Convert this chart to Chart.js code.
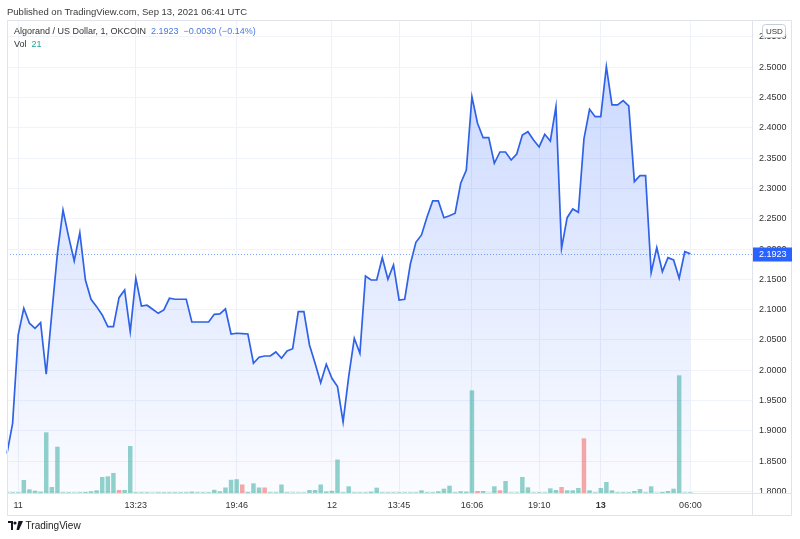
<!DOCTYPE html>
<html>
<head>
<meta charset="utf-8">
<script src="https://cdn.jsdelivr.net/npm/chart.js@4/dist/chart.umd.min.js"></script>
<style>
  body { margin: 0; background: #fff; font-family: "Liberation Sans", Arial, sans-serif; }
  #wrap { position: relative; width: 800px; height: 539px; }
  canvas { position: absolute; left: 0; top: 0; }
  .txt { position: absolute; font-size: 9px; color: #333; white-space: nowrap; }
</style>
</head>
<body>
<div id="wrap">
  <canvas id="chart" width="800" height="539"></canvas>
  <div class="txt" style="left:7px;top:6px;font-size:9.5px;color:#3a3a3a">Published on TradingView.com, Sep 13, 2021 06:41 UTC</div>
  <div class="txt" style="left:14px;top:26px">Algorand / US Dollar, 1, OKCOIN&nbsp; <span style="color:#4a78e0">2.1923&nbsp; −0.0030 (−0.14%)</span></div>
  <div class="txt" style="left:14px;top:39px">Vol&nbsp; <span style="color:#22a293">21</span></div>
  <div class="txt" style="left:8px;top:520px;font-size:10px;color:#222">
    <svg width="15" height="9" viewBox="0 0 15 9" style="vertical-align:-1px"><path d="M0 0h5v9H3V2H0z" fill="#131722"/><circle cx="7" cy="2" r="1.6" fill="#131722"/><path d="M10.5 0H15L11 9H8.5z" fill="#131722"/></svg>
    TradingView</div>
</div>
<script>
// price per 1 minute bar
var prices = [1.863, 1.9125, 2.0583, 2.1023, 2.0776, 2.0693, 2.0786, 1.9934, 2.094, 2.193,
  2.2645, 2.2205, 2.1804, 2.2271, 2.149, 2.1172, 2.105, 2.0913, 2.072, 2.072,
  2.1198, 2.1325, 2.0637, 2.1518, 2.106, 2.1073, 2.1007, 2.094, 2.0995, 2.1188,
  2.1172, 2.1172, 2.1172, 2.0797, 2.0797, 2.0797, 2.0797, 2.0924, 2.093, 2.1012,
  2.0599, 2.0611, 2.0605, 2.0599, 2.0116, 2.0215, 2.0236, 2.0236, 2.0302, 2.0198,
  2.0319, 2.0356, 2.0967, 2.0967, 2.0418, 2.0116, 1.9795, 2.0099, 1.9868, 1.973,
  1.9147, 1.9895, 2.0528, 2.028, 2.1556, 2.149, 2.149, 2.1858, 2.1502, 2.1738,
  2.116, 2.1172, 2.1749, 2.2112, 2.2233, 2.2535, 2.2794, 2.2794, 2.2518, 2.2551,
  2.2591, 2.3086, 2.3305, 2.4515, 2.4076, 2.3838, 2.3838, 2.3416, 2.3602, 2.3602,
  2.347, 2.3569, 2.3883, 2.3937, 2.38, 2.3685, 2.3894, 2.3784, 2.435, 2.2013,
  2.2518, 2.2662, 2.2607, 2.3817, 2.4307, 2.4185, 2.4185, 2.501, 2.4378, 2.4378,
  2.4449, 2.4361, 2.3112, 2.3211, 2.3211, 2.161, 2.2023, 2.1627, 2.1858, 2.182,
  2.1518, 2.1957, 2.1923];

var volumes = [21, 21, 21, 390, 111, 69, 39, 1821, 180, 1389,
  21, 21, 15, 21, 30, 51, 81, 480, 501, 600,
  90, 90, 1410, 21, 21, 21, 12, 21, 21, 21,
  21, 21, 21, 39, 21, 21, 21, 96, 51, 165,
  396, 414, 255, 30, 291, 165, 165, 21, 21, 255,
  21, 15, 15, 15, 90, 90, 255, 45, 66, 1005,
  21, 201, 18, 18, 18, 39, 159, 18, 18, 18,
  21, 18, 18, 18, 81, 21, 21, 51, 129, 219,
  21, 51, 39, 3081, 60, 60, 9, 201, 81, 360,
  15, 15, 480, 171, 15, 21, 15, 141, 90, 180,
  81, 81, 150, 1641, 81, 21, 150, 330, 81, 21,
  21, 21, 60, 120, 21, 201, 9, 30, 60, 129,
  3531, 15, 21];

var downBars = [20, 42, 46, 84, 88, 99, 103];   // red volume bars

var tickIdx = [2, 23, 41, 58, 70, 83, 95, 106, 122];
var tickText = ['11', '13:23', '19:46', '12', '13:45', '16:06', '19:10', '13', '06:00'];

var priceTicks = [1.80, 1.85, 1.90, 1.95, 2.00, 2.05, 2.10, 2.15, 2.20, 2.25, 2.30, 2.35, 2.40, 2.45, 2.50, 2.55];
var lastPrice = 2.1923;

var emptyRight = 11; // blank bars at right edge
var labels = [];
for (var i = 0; i < prices.length + emptyRight; i++) labels.push(String(i));

var volColors = volumes.map(function(v, i) {
  return downBars.indexOf(i) >= 0 ? 'rgba(239,83,80,0.5)' : 'rgba(38,166,154,0.5)';
});

var FONT = '"Liberation Sans", Arial, sans-serif';

var extras = {
  id: 'extras',
  afterDraw: function(chart) {
    var c = chart.ctx, a = chart.chartArea, y = chart.scales.y;
    c.save();
    // last price dotted line
    var py = Math.round(y.getPixelForValue(lastPrice)) + 0.5;
    c.strokeStyle = 'rgba(41,98,255,0.6)';
    c.lineWidth = 1;
    c.setLineDash([1, 2]);
    c.beginPath(); c.moveTo(a.left, py); c.lineTo(a.right, py); c.stroke();
    c.setLineDash([]);
    // frame
    c.strokeStyle = '#e0e3eb';
    c.beginPath();
    c.rect(7.5, 20.5, 784, 495);
    c.moveTo(a.right + 0.5, 20); c.lineTo(a.right + 0.5, 516);
    c.moveTo(7, a.bottom + 0.5); c.lineTo(792, a.bottom + 0.5);
    c.stroke();
    // price label
    c.fillStyle = '#2962ff';
    c.fillRect(a.right + 1, py - 7, 39, 14);
    c.fillStyle = '#fff';
    c.font = '9px ' + FONT;
    c.textBaseline = 'middle';
    c.fillText(lastPrice.toFixed(4), a.right + 7, py + 0.5);
    // USD box
    c.fillStyle = '#fff';
    c.strokeStyle = '#c9ccd4';
    c.beginPath();
    c.roundRect(762.5, 24.5, 23, 13, 3);
    c.fill(); c.stroke();
    c.fillStyle = '#333';
    c.font = '8px ' + FONT;
    c.fillText('USD', 766, 31.5);
    c.restore();
  }
};

new Chart(document.getElementById('chart'), {
  data: {
    labels: labels,
    datasets: [
      {
        type: 'bar',
        data: volumes,
        yAxisID: 'y2',
        backgroundColor: volColors,
        barPercentage: 0.8,
        categoryPercentage: 1,
        order: 0
      },
      {
        type: 'line',
        data: prices,
        yAxisID: 'y',
        borderColor: '#2f62e6',
        borderWidth: 1.7,
        pointRadius: 0,
        tension: 0,
        fill: 'start',
        backgroundColor: function(ctx) {
          var a = ctx.chart.chartArea;
          if (!a) return 'rgba(41,98,255,0.15)';
          var g = ctx.chart.ctx.createLinearGradient(0, a.top, 0, a.bottom);
          g.addColorStop(0, 'rgba(41,98,255,0.26)');
          g.addColorStop(1, 'rgba(41,98,255,0.02)');
          return g;
        },
        order: 1
      }
    ]
  },
  options: {
    responsive: false,
    animation: false,
    layout: { padding: { left: 7, top: 20, right: 8, bottom: 23 } },
    plugins: { legend: { display: false }, tooltip: { enabled: false } },
    scales: {
      x: {
        type: 'category',
        offset: false,
        afterBuildTicks: function(s) { s.ticks = tickIdx.map(function(v) { return { value: v }; }); },
        afterFit: function(s) { s.height = 23; },
        grid: { color: '#eef1f8', drawTicks: false, offset: false },
        border: { display: false },
        ticks: {
          autoSkip: false, maxRotation: 0, padding: 7, color: '#333',
          font: function(ctx) {
            var bold = ctx.tick && ctx.tick.value === 106;
            return { family: FONT, size: 9, weight: bold ? 'bold' : 'normal' };
          },
          callback: function(v) { return tickText[tickIdx.indexOf(v)]; }
        }
      },
      y: {
        position: 'right',
        min: 1.7975,
        max: 2.578,
        afterBuildTicks: function(s) { s.ticks = priceTicks.map(function(v) { return { value: v }; }); },
        afterFit: function(s) { s.width = 40; },
        grid: { color: '#f0f3fa', drawTicks: false },
        border: { display: false },
        ticks: {
          padding: 7, color: '#333', font: { family: FONT, size: 9 },
          callback: function(v) { return Number(v).toFixed(4); }
        }
      },
      y2: {
        display: false,
        min: 0,
        max: 14190
      }
    }
  },
  plugins: [extras]
});
</script>
</body>
</html>
